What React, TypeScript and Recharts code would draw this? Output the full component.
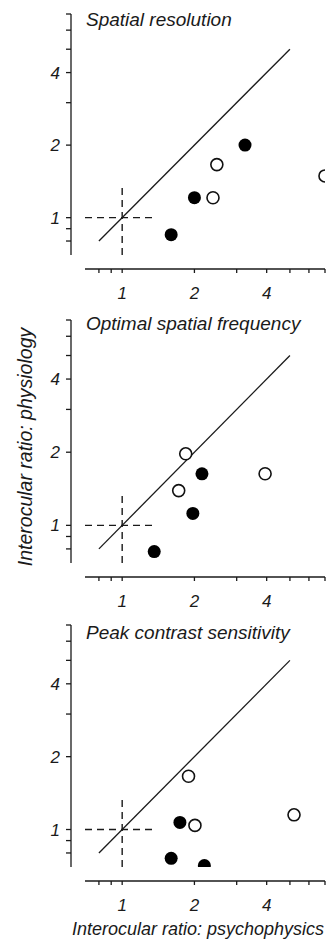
import { ScatterChart, Scatter, XAxis, YAxis, ReferenceLine } from 'recharts';

// shared log axes (0.7 .. 7 on both)
const axisDomain = [0.7, 7];
const tickValues = [0.8, 0.9, 1, 2, 3, 4, 5, 6, 7];
const labelledTicks = [1, 2, 4];

// identity line and the dashed unity cross
const identityLine = [{ x: 0.8, y: 0.8 }, { x: 5, y: 5 }];
const unityCrossEnd = 1.34;

// Spatial resolution
const resolutionFilled = [
  { x: 1.6, y: 0.85 },
  { x: 2.0, y: 1.21 },
  { x: 3.25, y: 2.0 },
];
const resolutionOpen = [
  { x: 2.48, y: 1.66 },
  { x: 2.39, y: 1.21 },
  { x: 7.0, y: 1.49 },
];

// Optimal spatial frequency
const frequencyFilled = [
  { x: 2.15, y: 1.63 },
  { x: 1.97, y: 1.12 },
  { x: 1.36, y: 0.78 },
];
const frequencyOpen = [
  { x: 1.84, y: 1.97 },
  { x: 3.94, y: 1.63 },
  { x: 1.72, y: 1.39 },
];

// Peak contrast sensitivity
const contrastFilled = [
  { x: 1.74, y: 1.07 },
  { x: 1.6, y: 0.76 },
  { x: 2.2, y: 0.71 },
];
const contrastOpen = [
  { x: 1.89, y: 1.66 },
  { x: 2.01, y: 1.04 },
  { x: 5.2, y: 1.15 },
];

const panelTitles = ['Spatial resolution', 'Optimal spatial frequency', 'Peak contrast sensitivity'];
const yAxisTitle = 'Interocular ratio: physiology';
const xAxisTitle = 'Interocular ratio: psychophysics';

const font = "'Liberation Sans', Arial, sans-serif";
const ink = '#1a1a1a';

const tickStyle = { fontSize: 17, fontStyle: 'italic', fill: ink, fontFamily: font };
const formatTick = (v: number) => (labelledTicks.includes(v) ? String(v) : '');

const FilledDot = (props: any) => <circle cx={props.cx} cy={props.cy} r={6.5} fill="#000" />;
const OpenDot = (props: any) => (
  <circle cx={props.cx} cy={props.cy} r={6} fill="#fff" stroke="#111" strokeWidth={1.6} />
);

function Panel({ filled, open, plotHeight }: { filled: any[]; open: any[]; plotHeight: number }) {
  const height = 14 + plotHeight + 14 + 40;
  return (
    <ScatterChart width={332} height={height} margin={{ top: 14, right: 7, bottom: 0, left: 0 }}>
      {/* spacer axes keep the real axes detached from the plot */}
      <XAxis xAxisId="gap" type="number" height={14} tick={false} axisLine={false} tickLine={false} domain={[0, 1]} />
      <XAxis
        xAxisId="main"
        type="number"
        dataKey="x"
        scale="log"
        domain={axisDomain}
        allowDataOverflow
        ticks={tickValues}
        tickFormatter={formatTick}
        interval={0}
        height={40}
        tickSize={4}
        tickMargin={14}
        tick={tickStyle}
        stroke={ink}
        strokeWidth={1.3}
      />
      <YAxis yAxisId="gap" type="number" width={14} tick={false} axisLine={false} tickLine={false} domain={[0, 1]} />
      <YAxis
        yAxisId="main"
        type="number"
        dataKey="y"
        scale="log"
        domain={axisDomain}
        allowDataOverflow
        ticks={tickValues}
        tickFormatter={formatTick}
        interval={0}
        width={71}
        tickSize={5}
        tickMargin={6}
        tick={tickStyle}
        stroke={ink}
        strokeWidth={1.3}
      />
      <ReferenceLine
        xAxisId="main"
        yAxisId="main"
        segment={identityLine}
        stroke={ink}
        strokeWidth={1.3}
        ifOverflow="visible"
      />
      <ReferenceLine
        xAxisId="main"
        yAxisId="main"
        segment={[{ x: axisDomain[0], y: 1 }, { x: unityCrossEnd, y: 1 }]}
        stroke={ink}
        strokeWidth={1.4}
        strokeDasharray="7 5"
        ifOverflow="visible"
      />
      <ReferenceLine
        xAxisId="main"
        yAxisId="main"
        segment={[{ x: 1, y: axisDomain[0] }, { x: 1, y: unityCrossEnd }]}
        stroke={ink}
        strokeWidth={1.4}
        strokeDasharray="7 5"
        ifOverflow="visible"
      />
      <Scatter xAxisId="main" yAxisId="main" data={filled} shape={FilledDot} isAnimationActive={false} />
      <Scatter xAxisId="main" yAxisId="main" data={open} shape={OpenDot} isAnimationActive={false} />
    </ScatterChart>
  );
}

export default function App() {
  return (
    <div style={{ position: 'absolute', left: 0, top: 0, width: 332, height: 942, background: '#fff' }}>
      <div style={{ position: 'absolute', left: 0, top: 0 }}>
        <Panel filled={resolutionFilled} open={resolutionOpen} plotHeight={241} />
      </div>
      <div style={{ position: 'absolute', left: 0, top: 306 }}>
        <Panel filled={frequencyFilled} open={frequencyOpen} plotHeight={243} />
      </div>
      <div style={{ position: 'absolute', left: 0, top: 611 }}>
        <Panel filled={contrastFilled} open={contrastOpen} plotHeight={242} />
      </div>
      <svg
        width={332}
        height={942}
        style={{ position: 'absolute', left: 0, top: 0, pointerEvents: 'none' }}
      >
        <g fontFamily={font} fontStyle="italic" fill={ink}>
          <text x={86} y={26} fontSize={19}>{panelTitles[0]}</text>
          <text x={86} y={330} fontSize={19}>{panelTitles[1]}</text>
          <text x={86} y={639} fontSize={19}>{panelTitles[2]}</text>
          <text
            x={0}
            y={0}
            fontSize={19.5}
            textAnchor="middle"
            transform="translate(32 447) rotate(-90)"
          >
            {yAxisTitle}
          </text>
          <text x={198} y={935} fontSize={18} textAnchor="middle">{xAxisTitle}</text>
        </g>
      </svg>
    </div>
  );
}
